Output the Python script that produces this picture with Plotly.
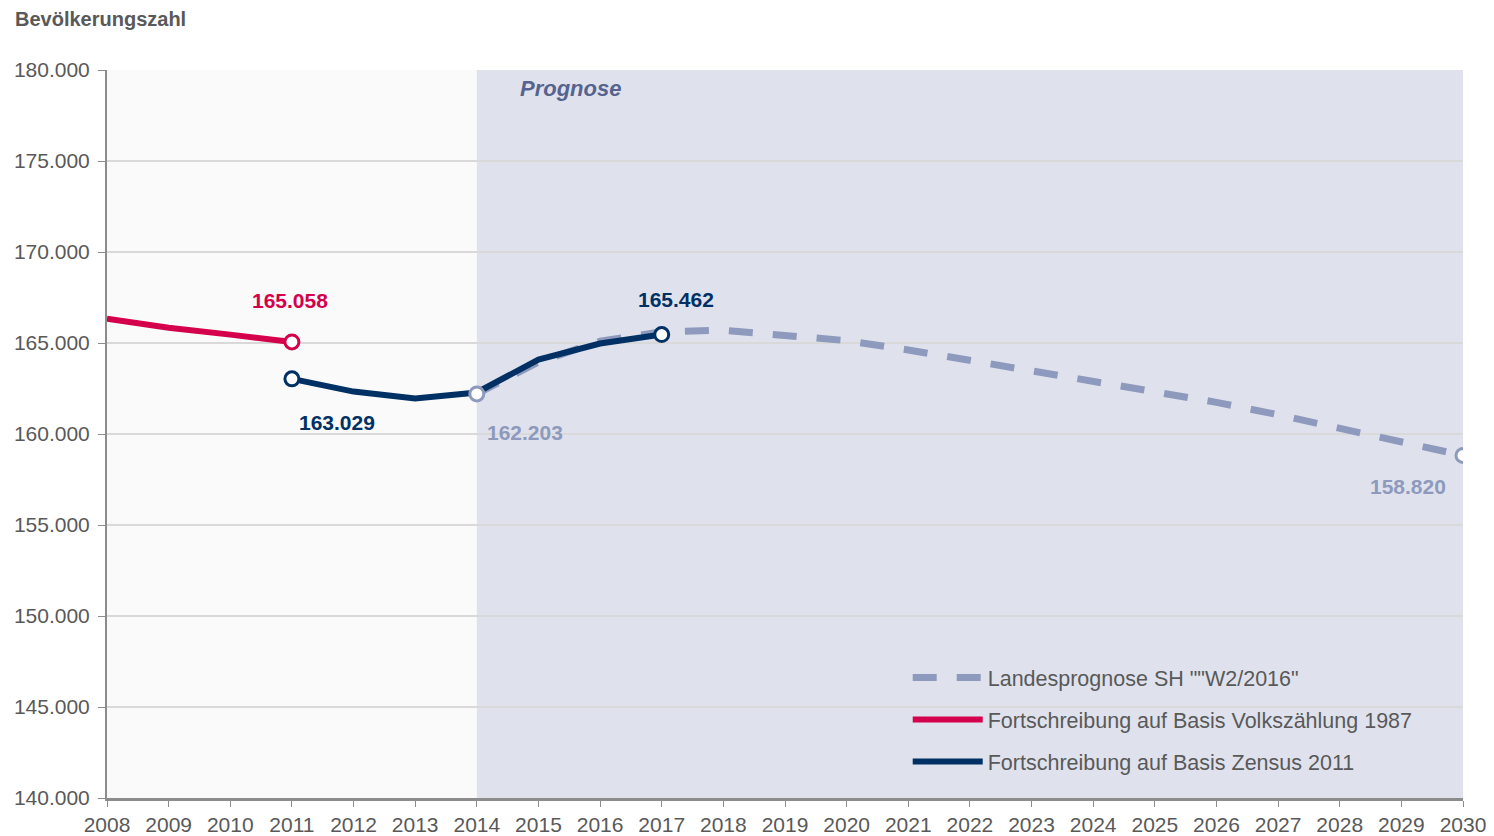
import plotly.graph_objects as go

years_vz = [2008, 2009, 2010, 2011]
vals_vz = [166340, 165840, 165460, 165058]

years_zensus = [2011, 2012, 2013, 2014, 2015, 2016, 2017]
vals_zensus = [163029, 162330, 161950, 162280, 164090, 164970, 165462]

years_prog = list(range(2014, 2031))
vals_prog = [162203, 163950, 165100, 165620, 165700, 165450, 165130, 164620,
             164050, 163480, 162930, 162390, 161740, 161060, 160300, 159580, 158820]

name_prog = 'Landesprognose SH ""W2/2016"'
name_vz = "Fortschreibung auf Basis Volkszählung 1987"
name_zensus = "Fortschreibung auf Basis Zensus 2011"

C_RED = "#d5004b"
C_NAVY = "#003064"
C_GREY = "#8e9abd"
TXT = "#595959"
FONT = "Liberation Sans, Arial, sans-serif"

W, H = 1486, 828


def de(v):
    return f"{v:,}".replace(",", ".")


fig = go.Figure()

fig.add_trace(go.Scatter(x=years_prog, y=vals_prog, mode="lines", name=name_prog,
                         line=dict(color=C_GREY, width=7, dash="24px,20px"),
                         legendgroup="a"))
fig.add_trace(go.Scatter(x=years_vz, y=vals_vz, mode="lines", name=name_vz,
                         line=dict(color=C_RED, width=6), legendgroup="b"))
fig.add_trace(go.Scatter(x=years_zensus, y=vals_zensus, mode="lines", name=name_zensus,
                         line=dict(color=C_NAVY, width=6), legendgroup="c"))

marker_sets = [
    ([years_prog[0], years_prog[-1]], [vals_prog[0], vals_prog[-1]], C_GREY),
    ([years_vz[-1]], [vals_vz[-1]], C_RED),
    ([years_zensus[0], years_zensus[-1]], [vals_zensus[0], vals_zensus[-1]], C_NAVY),
]
for xs, ys, c in marker_sets:
    fig.add_trace(go.Scatter(x=xs, y=ys, mode="markers", showlegend=False, hoverinfo="skip",
                             marker=dict(size=14, color="white", line=dict(color=c, width=3))))

labels = [
    (years_vz[-1], vals_vz[-1], C_RED, -2, 41),
    (years_zensus[0], vals_zensus[0], C_NAVY, 45, -44),
    (years_prog[0], vals_prog[0], C_GREY, 48, -39),
    (years_zensus[-1], vals_zensus[-1], C_NAVY, 14, 35),
    (years_prog[-1], vals_prog[-1], C_GREY, -55, -31),
]
for x, y, c, dx, dy in labels:
    fig.add_annotation(x=x, y=y, text=f"<b>{de(y)}</b>", showarrow=False,
                       xshift=dx, yshift=dy, font=dict(family=FONT, size=21, color=c))

fig.add_annotation(x=2014.66, y=179000, xref="x", yref="y", text="<b><i>Prognose</i></b>",
                   showarrow=False, xanchor="left",
                   font=dict(family=FONT, size=22, color="#56638f"))

fig.add_shape(type="rect", x0=2014, x1=2030, y0=140000, y1=180000, xref="x", yref="y",
              fillcolor="#dfe2ec", line=dict(width=0), layer="below")

fig.update_layout(
    width=W, height=H,
    margin=dict(l=99, r=31, t=62, b=38, autoexpand=False),
    paper_bgcolor="white", plot_bgcolor="#fafafa",
    separators=",.",
    font=dict(family=FONT, size=21, color=TXT),
    title=dict(text="<b>Bevölkerungszahl</b>", x=7 / W, xanchor="left",
               y=1 - 11 / H, yanchor="middle",
               font=dict(family=FONT, size=20, color=TXT)),
    showlegend=True,
    legend=dict(x=0.5905, y=0.1935, xanchor="left", yanchor="top", bgcolor="rgba(0,0,0,0)",
                traceorder="grouped", tracegroupgap=11, itemwidth=70,
                font=dict(family=FONT, size=21.5, color=TXT)),
    xaxis=dict(range=[2008, 2030], tickmode="linear", dtick=1, tick0=2008, automargin=False,
               showgrid=False, zeroline=False, showline=True, linecolor="#8c8c8c",
               linewidth=3, ticks="outside", ticklen=6, tickcolor="#8c8c8c",
               tickfont=dict(family=FONT, size=21, color=TXT)),
    yaxis=dict(range=[140000, 180000], tickmode="linear", dtick=5000, tick0=140000,
               automargin=False, ticklabelstandoff=4,
               tickformat=",d", showgrid=True, gridcolor="#d9d9d9", gridwidth=1.5,
               zeroline=False, showline=True, linecolor="#8c8c8c", linewidth=2,
               ticks="outside", ticklen=7, tickcolor="#8c8c8c",
               tickfont=dict(family=FONT, size=21, color=TXT)),
)

fig.write_html("out.html")
